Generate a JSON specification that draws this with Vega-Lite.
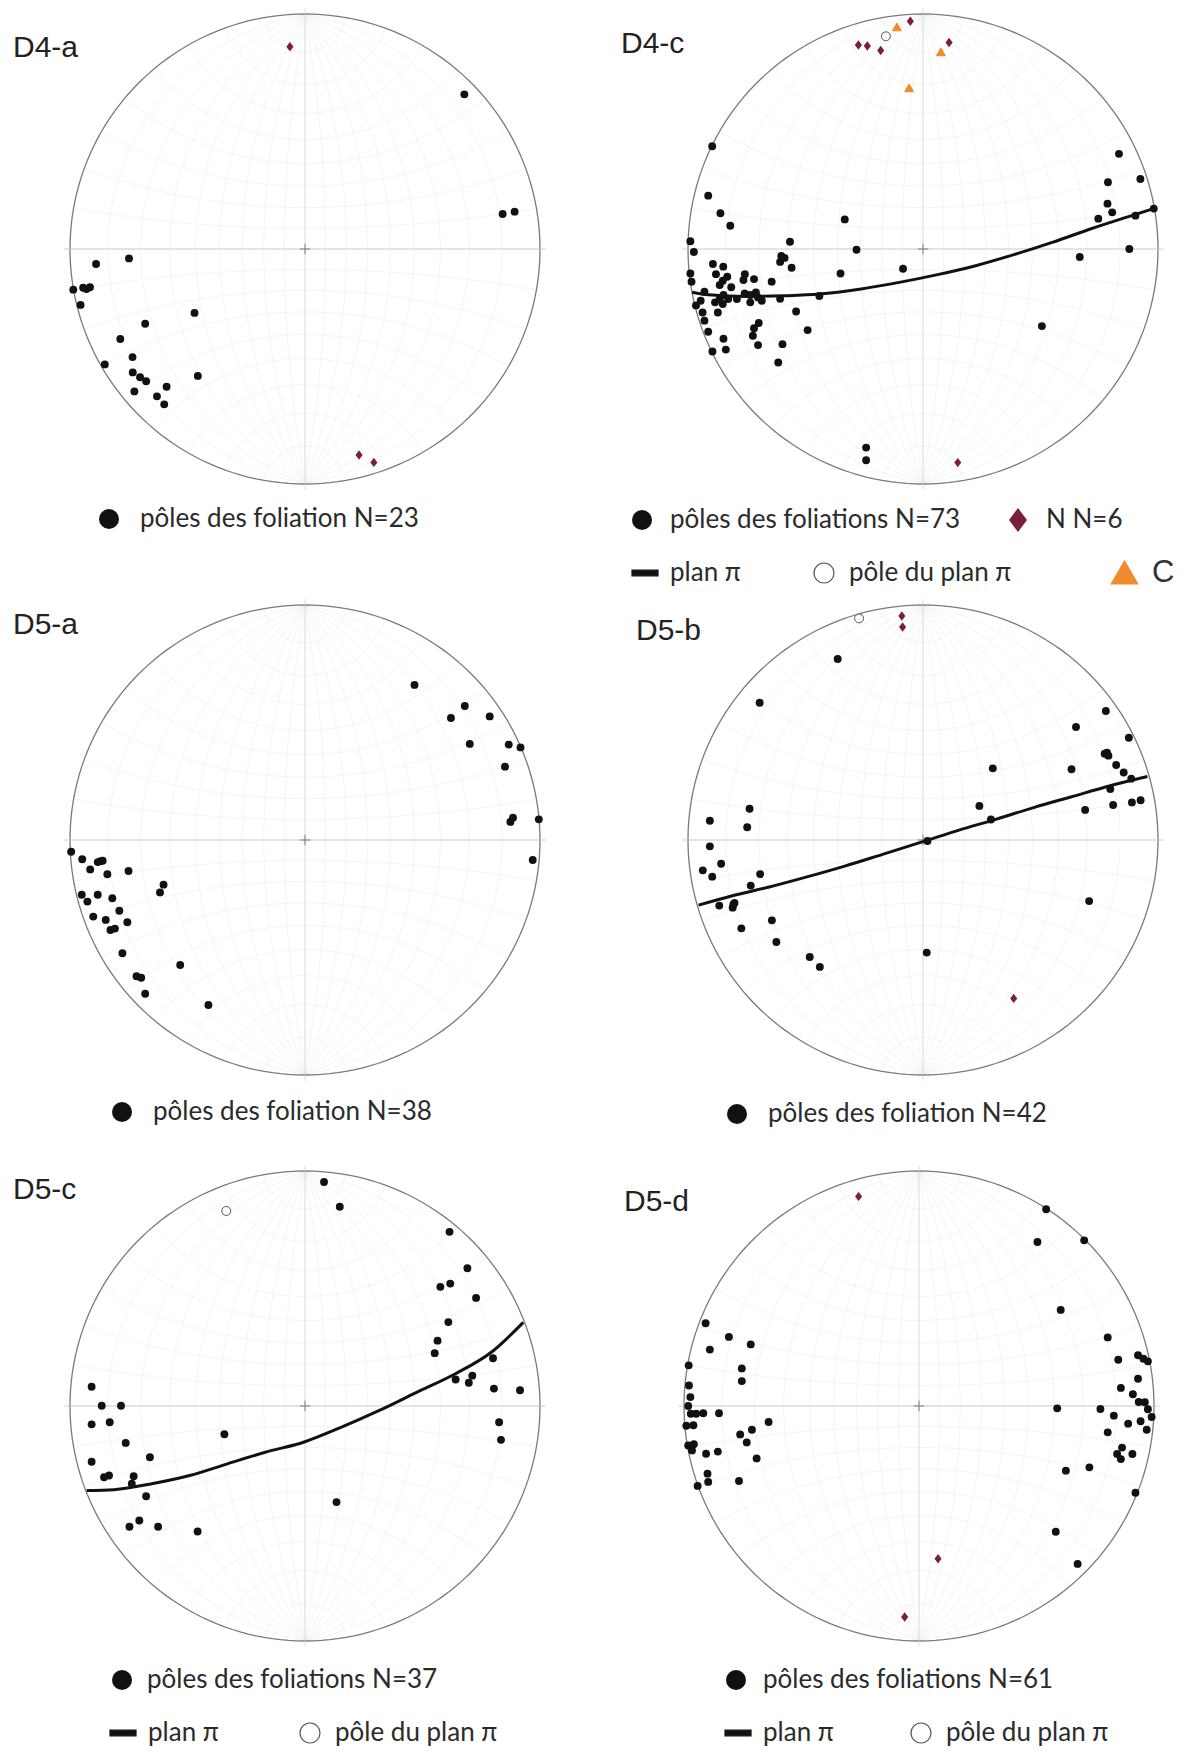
{
"$schema":"https://vega.github.io/schema/vega-lite/v6.json",
"padding":{"left":13,"top":7,"right":0,"bottom":0},
"background":"white",
"config":{
 "view":{"stroke":null},
 "font":"Lato",
 "title":{"font":"Liberation Sans","fontSize":30,"fontWeight":"normal","color":"#222222","anchor":"start","offset":0,"baseline":"alphabetic","frame":"group"},
 "legend":{"labelFont":"Lato","labelFontSize":26,"labelColor":"#2b2b2b","symbolSize":400,"labelOffset":20,"padding":0,"symbolStrokeWidth":1.2,"labelLimit":600}
},
"datasets":{
"pts":[
{"p":"a4","k":"N","x":-0.064,"y":0.861},{"p":"a4","k":"N","x":0.23,"y":-0.877},{"p":"a4","k":"N","x":0.293,"y":-0.908},
{"p":"a4","k":"pole","x":0.678,"y":0.658},{"p":"a4","k":"pole","x":0.841,"y":0.149},{"p":"a4","k":"pole","x":0.892,"y":0.159},{"p":"a4","k":"pole","x":-0.749,"y":-0.04},{"p":"a4","k":"pole","x":-0.889,"y":-0.064},{"p":"a4","k":"pole","x":-0.986,"y":-0.173},{"p":"a4","k":"pole","x":-0.944,"y":-0.165},{"p":"a4","k":"pole","x":-0.915,"y":-0.163},{"p":"a4","k":"pole","x":-0.955,"y":-0.238},{"p":"a4","k":"pole","x":-0.47,"y":-0.272},{"p":"a4","k":"pole","x":-0.68,"y":-0.318},{"p":"a4","k":"pole","x":-0.786,"y":-0.383},{"p":"a4","k":"pole","x":-0.734,"y":-0.46},{"p":"a4","k":"pole","x":-0.852,"y":-0.491},{"p":"a4","k":"pole","x":-0.733,"y":-0.525},{"p":"a4","k":"pole","x":-0.702,"y":-0.546},{"p":"a4","k":"pole","x":-0.676,"y":-0.563},{"p":"a4","k":"pole","x":-0.456,"y":-0.54},{"p":"a4","k":"pole","x":-0.589,"y":-0.586},{"p":"a4","k":"pole","x":-0.726,"y":-0.606},{"p":"a4","k":"pole","x":-0.63,"y":-0.627},{"p":"a4","k":"pole","x":-0.599,"y":-0.661},{"p":"a4","k":"pole","x":-0.93,"y":-0.17},
{"p":"c4","k":"N","x":-0.054,"y":0.969},{"p":"c4","k":"N","x":-0.275,"y":0.868},{"p":"c4","k":"N","x":-0.237,"y":0.864},{"p":"c4","k":"N","x":-0.18,"y":0.845},{"p":"c4","k":"N","x":0.111,"y":0.879},{"p":"c4","k":"N","x":0.148,"y":-0.909},
{"p":"c4","k":"C","x":-0.111,"y":0.945},{"p":"c4","k":"C","x":0.076,"y":0.839},{"p":"c4","k":"C","x":-0.059,"y":0.686},
{"p":"c4","k":"pp","x":-0.158,"y":0.905},
{"p":"c4","k":"pole","x":0.834,"y":0.405},{"p":"c4","k":"pole","x":0.787,"y":0.284},{"p":"c4","k":"pole","x":0.925,"y":0.298},{"p":"c4","k":"pole","x":0.785,"y":0.193},{"p":"c4","k":"pole","x":0.805,"y":0.156},{"p":"c4","k":"pole","x":0.746,"y":0.129},{"p":"c4","k":"pole","x":0.982,"y":0.172},{"p":"c4","k":"pole","x":0.904,"y":0.142},{"p":"c4","k":"pole","x":0.878,"y":0.0},{"p":"c4","k":"pole","x":0.667,"y":-0.034},{"p":"c4","k":"pole","x":0.506,"y":-0.328},
{"p":"c4","k":"pole","x":-0.333,"y":0.126},{"p":"c4","k":"pole","x":-0.283,"y":-0.003},{"p":"c4","k":"pole","x":-0.085,"y":-0.084},{"p":"c4","k":"pole","x":-0.351,"y":-0.104},{"p":"c4","k":"pole","x":-0.441,"y":-0.2},
{"p":"c4","k":"pole","x":-0.242,"y":-0.845},{"p":"c4","k":"pole","x":-0.242,"y":-0.899},
{"p":"c4","k":"pole","x":-0.897,"y":0.437},{"p":"c4","k":"pole","x":-0.914,"y":0.227},{"p":"c4","k":"pole","x":-0.862,"y":0.152},{"p":"c4","k":"pole","x":-0.82,"y":0.099},{"p":"c4","k":"pole","x":-0.99,"y":0.033},{"p":"c4","k":"pole","x":-0.975,"y":-0.013},{"p":"c4","k":"pole","x":-0.566,"y":0.031},
{"p":"c4","k":"pole","x":-0.603,"y":-0.03},{"p":"c4","k":"pole","x":-0.589,"y":-0.038},{"p":"c4","k":"pole","x":-0.608,"y":-0.055},{"p":"c4","k":"pole","x":-0.559,"y":-0.08},{"p":"c4","k":"pole","x":-0.894,"y":-0.064},{"p":"c4","k":"pole","x":-0.85,"y":-0.075},{"p":"c4","k":"pole","x":-0.881,"y":-0.107},{"p":"c4","k":"pole","x":-0.833,"y":-0.118},{"p":"c4","k":"pole","x":-0.758,"y":-0.107},{"p":"c4","k":"pole","x":-0.719,"y":-0.128},{"p":"c4","k":"pole","x":-0.764,"y":-0.132},{"p":"c4","k":"pole","x":-0.644,"y":-0.139},{"p":"c4","k":"pole","x":-0.865,"y":-0.153},{"p":"c4","k":"pole","x":-0.99,"y":-0.104},{"p":"c4","k":"pole","x":-0.985,"y":-0.139},{"p":"c4","k":"pole","x":-0.93,"y":-0.182},{"p":"c4","k":"pole","x":-0.849,"y":-0.196},{"p":"c4","k":"pole","x":-0.829,"y":-0.213},{"p":"c4","k":"pole","x":-0.792,"y":-0.213},{"p":"c4","k":"pole","x":-0.735,"y":-0.196},{"p":"c4","k":"pole","x":-0.702,"y":-0.206},{"p":"c4","k":"pole","x":-0.735,"y":-0.227},{"p":"c4","k":"pole","x":-0.686,"y":-0.22},{"p":"c4","k":"pole","x":-0.608,"y":-0.212},{"p":"c4","k":"pole","x":-0.885,"y":-0.227},{"p":"c4","k":"pole","x":-0.852,"y":-0.234},{"p":"c4","k":"pole","x":-0.966,"y":-0.24},{"p":"c4","k":"pole","x":-0.938,"y":-0.27},{"p":"c4","k":"pole","x":-0.873,"y":-0.27},{"p":"c4","k":"pole","x":-0.54,"y":-0.266},{"p":"c4","k":"pole","x":-0.93,"y":-0.305},{"p":"c4","k":"pole","x":-0.914,"y":-0.352},{"p":"c4","k":"pole","x":-0.699,"y":-0.315},{"p":"c4","k":"pole","x":-0.719,"y":-0.337},{"p":"c4","k":"pole","x":-0.724,"y":-0.369},{"p":"c4","k":"pole","x":-0.491,"y":-0.345},{"p":"c4","k":"pole","x":-0.849,"y":-0.382},{"p":"c4","k":"pole","x":-0.702,"y":-0.409},{"p":"c4","k":"pole","x":-0.598,"y":-0.405},{"p":"c4","k":"pole","x":-0.896,"y":-0.436},{"p":"c4","k":"pole","x":-0.839,"y":-0.428},{"p":"c4","k":"pole","x":-0.616,"y":-0.483},
{"p":"c4","k":"pole","x":-0.852,"y":-0.135},{"p":"c4","k":"pole","x":-0.816,"y":-0.163},{"p":"c4","k":"pole","x":-0.759,"y":-0.189},{"p":"c4","k":"pole","x":-0.865,"y":-0.213},{"p":"c4","k":"pole","x":-0.946,"y":-0.22},{"p":"c4","k":"pole","x":-0.711,"y":-0.185},
{"p":"a5","k":"pole","x":0.466,"y":0.66},{"p":"a5","k":"pole","x":0.68,"y":0.57},{"p":"a5","k":"pole","x":0.621,"y":0.519},{"p":"a5","k":"pole","x":0.786,"y":0.526},{"p":"a5","k":"pole","x":0.701,"y":0.409},{"p":"a5","k":"pole","x":0.867,"y":0.406},{"p":"a5","k":"pole","x":0.917,"y":0.394},{"p":"a5","k":"pole","x":0.851,"y":0.312},{"p":"a5","k":"pole","x":0.885,"y":0.095},{"p":"a5","k":"pole","x":0.874,"y":0.077},{"p":"a5","k":"pole","x":0.995,"y":0.088},{"p":"a5","k":"pole","x":0.969,"y":-0.085},
{"p":"a5","k":"pole","x":-0.995,"y":-0.05},{"p":"a5","k":"pole","x":-0.948,"y":-0.082},{"p":"a5","k":"pole","x":-0.882,"y":-0.094},{"p":"a5","k":"pole","x":-0.861,"y":-0.088},{"p":"a5","k":"pole","x":-0.914,"y":-0.125},{"p":"a5","k":"pole","x":-0.841,"y":-0.146},{"p":"a5","k":"pole","x":-0.751,"y":-0.132},{"p":"a5","k":"pole","x":-0.602,"y":-0.19},{"p":"a5","k":"pole","x":-0.617,"y":-0.223},{"p":"a5","k":"pole","x":-0.95,"y":-0.233},{"p":"a5","k":"pole","x":-0.882,"y":-0.233},{"p":"a5","k":"pole","x":-0.926,"y":-0.262},{"p":"a5","k":"pole","x":-0.82,"y":-0.248},{"p":"a5","k":"pole","x":-0.79,"y":-0.301},{"p":"a5","k":"pole","x":-0.901,"y":-0.326},{"p":"a5","k":"pole","x":-0.848,"y":-0.34},{"p":"a5","k":"pole","x":-0.756,"y":-0.35},{"p":"a5","k":"pole","x":-0.828,"y":-0.383},{"p":"a5","k":"pole","x":-0.809,"y":-0.377},{"p":"a5","k":"pole","x":-0.777,"y":-0.482},{"p":"a5","k":"pole","x":-0.531,"y":-0.532},{"p":"a5","k":"pole","x":-0.717,"y":-0.58},{"p":"a5","k":"pole","x":-0.697,"y":-0.586},{"p":"a5","k":"pole","x":-0.68,"y":-0.654},{"p":"a5","k":"pole","x":-0.411,"y":-0.702},{"p":"a5","k":"pole","x":-0.87,"y":-0.09},
{"p":"b5","k":"N","x":-0.09,"y":0.953},{"p":"b5","k":"N","x":-0.087,"y":0.906},{"p":"b5","k":"N","x":0.386,"y":-0.674},
{"p":"b5","k":"pp","x":-0.272,"y":0.943},
{"p":"b5","k":"pole","x":-0.363,"y":0.77},{"p":"b5","k":"pole","x":-0.695,"y":0.584},{"p":"b5","k":"pole","x":0.778,"y":0.549},{"p":"b5","k":"pole","x":0.651,"y":0.481},{"p":"b5","k":"pole","x":0.876,"y":0.435},{"p":"b5","k":"pole","x":0.773,"y":0.367},{"p":"b5","k":"pole","x":0.789,"y":0.359},{"p":"b5","k":"pole","x":0.297,"y":0.305},{"p":"b5","k":"pole","x":0.632,"y":0.301},{"p":"b5","k":"pole","x":0.822,"y":0.319},{"p":"b5","k":"pole","x":0.854,"y":0.287},{"p":"b5","k":"pole","x":0.886,"y":0.261},{"p":"b5","k":"pole","x":0.797,"y":0.217},{"p":"b5","k":"pole","x":0.69,"y":0.128},{"p":"b5","k":"pole","x":0.809,"y":0.149},{"p":"b5","k":"pole","x":0.889,"y":0.16},{"p":"b5","k":"pole","x":0.926,"y":0.169},{"p":"b5","k":"pole","x":0.24,"y":0.145},{"p":"b5","k":"pole","x":0.289,"y":0.087},{"p":"b5","k":"pole","x":0.019,"y":-0.004},{"p":"b5","k":"pole","x":-0.738,"y":0.133},{"p":"b5","k":"pole","x":-0.907,"y":0.082},{"p":"b5","k":"pole","x":-0.748,"y":0.054},{"p":"b5","k":"pole","x":-0.907,"y":-0.027},{"p":"b5","k":"pole","x":-0.859,"y":-0.101},{"p":"b5","k":"pole","x":-0.937,"y":-0.129},{"p":"b5","k":"pole","x":-0.897,"y":-0.156},{"p":"b5","k":"pole","x":-0.693,"y":-0.145},{"p":"b5","k":"pole","x":-0.733,"y":-0.194},{"p":"b5","k":"pole","x":-0.867,"y":-0.279},{"p":"b5","k":"pole","x":-0.81,"y":-0.288},{"p":"b5","k":"pole","x":-0.807,"y":-0.274},{"p":"b5","k":"pole","x":-0.773,"y":-0.376},{"p":"b5","k":"pole","x":-0.643,"y":-0.342},{"p":"b5","k":"pole","x":-0.624,"y":-0.434},{"p":"b5","k":"pole","x":-0.482,"y":-0.498},{"p":"b5","k":"pole","x":-0.439,"y":-0.54},{"p":"b5","k":"pole","x":0.016,"y":-0.479},{"p":"b5","k":"pole","x":0.707,"y":-0.26},{"p":"b5","k":"pole","x":0.783,"y":0.372},{"p":"b5","k":"pole","x":-0.802,"y":-0.268},
{"p":"c5","k":"pp","x":-0.335,"y":0.83},
{"p":"c5","k":"pole","x":0.081,"y":0.953},{"p":"c5","k":"pole","x":0.148,"y":0.848},{"p":"c5","k":"pole","x":0.615,"y":0.741},{"p":"c5","k":"pole","x":0.691,"y":0.586},{"p":"c5","k":"pole","x":0.576,"y":0.507},{"p":"c5","k":"pole","x":0.618,"y":0.521},{"p":"c5","k":"pole","x":0.728,"y":0.46},{"p":"c5","k":"pole","x":0.61,"y":0.357},{"p":"c5","k":"pole","x":0.564,"y":0.278},{"p":"c5","k":"pole","x":0.552,"y":0.225},{"p":"c5","k":"pole","x":0.8,"y":0.203},{"p":"c5","k":"pole","x":0.641,"y":0.113},{"p":"c5","k":"pole","x":0.712,"y":0.129},{"p":"c5","k":"pole","x":0.697,"y":0.099},{"p":"c5","k":"pole","x":0.804,"y":0.074},{"p":"c5","k":"pole","x":0.915,"y":0.067},{"p":"c5","k":"pole","x":0.826,"y":-0.069},{"p":"c5","k":"pole","x":0.834,"y":-0.144},{"p":"c5","k":"pole","x":-0.908,"y":0.082},{"p":"c5","k":"pole","x":-0.865,"y":0.001},{"p":"c5","k":"pole","x":-0.783,"y":0.001},{"p":"c5","k":"pole","x":-0.908,"y":-0.078},{"p":"c5","k":"pole","x":-0.831,"y":-0.069},{"p":"c5","k":"pole","x":-0.763,"y":-0.157},{"p":"c5","k":"pole","x":-0.343,"y":-0.12},{"p":"c5","k":"pole","x":-0.908,"y":-0.237},{"p":"c5","k":"pole","x":-0.66,"y":-0.218},{"p":"c5","k":"pole","x":-0.855,"y":-0.303},{"p":"c5","k":"pole","x":-0.834,"y":-0.296},{"p":"c5","k":"pole","x":-0.729,"y":-0.299},{"p":"c5","k":"pole","x":-0.737,"y":-0.331},{"p":"c5","k":"pole","x":-0.676,"y":-0.384},{"p":"c5","k":"pole","x":-0.747,"y":-0.514},{"p":"c5","k":"pole","x":-0.705,"y":-0.487},{"p":"c5","k":"pole","x":-0.625,"y":-0.514},{"p":"c5","k":"pole","x":-0.457,"y":-0.534},{"p":"c5","k":"pole","x":0.134,"y":-0.409},
{"p":"d5","k":"N","x":-0.257,"y":0.892},{"p":"d5","k":"N","x":0.081,"y":-0.65},{"p":"d5","k":"N","x":-0.061,"y":-0.898},
{"p":"d5","k":"pole","x":0.541,"y":0.837},{"p":"d5","k":"pole","x":0.504,"y":0.698},{"p":"d5","k":"pole","x":0.703,"y":0.705},{"p":"d5","k":"pole","x":0.603,"y":0.409},{"p":"d5","k":"pole","x":0.803,"y":0.292},{"p":"d5","k":"pole","x":0.848,"y":0.197},{"p":"d5","k":"pole","x":0.932,"y":0.216},{"p":"d5","k":"pole","x":0.955,"y":0.201},{"p":"d5","k":"pole","x":0.974,"y":0.19},{"p":"d5","k":"pole","x":0.932,"y":0.116},{"p":"d5","k":"pole","x":0.859,"y":0.077},{"p":"d5","k":"pole","x":0.91,"y":0.05},{"p":"d5","k":"pole","x":0.935,"y":0.017},{"p":"d5","k":"pole","x":0.961,"y":0.016},{"p":"d5","k":"pole","x":0.974,"y":-0.014},{"p":"d5","k":"pole","x":0.99,"y":-0.047},{"p":"d5","k":"pole","x":0.588,"y":-0.01},{"p":"d5","k":"pole","x":0.772,"y":-0.013},{"p":"d5","k":"pole","x":0.829,"y":-0.041},{"p":"d5","k":"pole","x":0.89,"y":-0.075},{"p":"d5","k":"pole","x":0.943,"y":-0.065},{"p":"d5","k":"pole","x":0.969,"y":-0.101},{"p":"d5","k":"pole","x":0.803,"y":-0.112},{"p":"d5","k":"pole","x":0.864,"y":-0.177},{"p":"d5","k":"pole","x":0.843,"y":-0.204},{"p":"d5","k":"pole","x":0.859,"y":-0.226},{"p":"d5","k":"pole","x":0.908,"y":-0.204},{"p":"d5","k":"pole","x":0.625,"y":-0.275},{"p":"d5","k":"pole","x":0.725,"y":-0.261},{"p":"d5","k":"pole","x":0.921,"y":-0.369},{"p":"d5","k":"pole","x":0.582,"y":-0.535},{"p":"d5","k":"pole","x":0.675,"y":-0.672},
{"p":"d5","k":"pole","x":-0.908,"y":0.352},{"p":"d5","k":"pole","x":-0.809,"y":0.294},{"p":"d5","k":"pole","x":-0.716,"y":0.262},{"p":"d5","k":"pole","x":-0.89,"y":0.24},{"p":"d5","k":"pole","x":-0.98,"y":0.173},{"p":"d5","k":"pole","x":-0.754,"y":0.16},{"p":"d5","k":"pole","x":-0.754,"y":0.106},{"p":"d5","k":"pole","x":-0.979,"y":0.087},{"p":"d5","k":"pole","x":-0.973,"y":0.038},{"p":"d5","k":"pole","x":-0.982,"y":0.0},{"p":"d5","k":"pole","x":-0.971,"y":-0.033},{"p":"d5","k":"pole","x":-0.948,"y":-0.033},{"p":"d5","k":"pole","x":-0.918,"y":-0.031},{"p":"d5","k":"pole","x":-0.851,"y":-0.031},{"p":"d5","k":"pole","x":-0.99,"y":-0.084},{"p":"d5","k":"pole","x":-0.96,"y":-0.082},{"p":"d5","k":"pole","x":-0.64,"y":-0.068},{"p":"d5","k":"pole","x":-0.761,"y":-0.121},{"p":"d5","k":"pole","x":-0.711,"y":-0.101},{"p":"d5","k":"pole","x":-0.733,"y":-0.155},{"p":"d5","k":"pole","x":-0.982,"y":-0.168},{"p":"d5","k":"pole","x":-0.958,"y":-0.163},{"p":"d5","k":"pole","x":-0.966,"y":-0.189},{"p":"d5","k":"pole","x":-0.906,"y":-0.203},{"p":"d5","k":"pole","x":-0.856,"y":-0.194},{"p":"d5","k":"pole","x":-0.691,"y":-0.223},{"p":"d5","k":"pole","x":-0.9,"y":-0.288},{"p":"d5","k":"pole","x":-0.897,"y":-0.323},{"p":"d5","k":"pole","x":-0.942,"y":-0.34},{"p":"d5","k":"pole","x":-0.766,"y":-0.319}
],
"lines":[
{"p":"c4","x":-0.982,"y":-0.184},{"p":"c4","x":-0.914,"y":-0.195},{"p":"c4","x":-0.751,"y":-0.202},{"p":"c4","x":-0.589,"y":-0.199},{"p":"c4","x":-0.442,"y":-0.192},{"p":"c4","x":-0.263,"y":-0.17},{"p":"c4","x":-0.101,"y":-0.142},{"p":"c4","x":0.062,"y":-0.109},{"p":"c4","x":0.224,"y":-0.071},{"p":"c4","x":0.387,"y":-0.024},{"p":"c4","x":0.55,"y":0.028},{"p":"c4","x":0.712,"y":0.085},{"p":"c4","x":0.875,"y":0.138},{"p":"c4","x":0.982,"y":0.172},
{"p":"b5","x":-0.955,"y":-0.277},{"p":"b5","x":-0.815,"y":-0.238},{"p":"b5","x":-0.654,"y":-0.2},{"p":"b5","x":-0.494,"y":-0.157},{"p":"b5","x":-0.333,"y":-0.111},{"p":"b5","x":-0.172,"y":-0.061},{"p":"b5","x":0.0,"y":-0.007},{"p":"b5","x":0.15,"y":0.041},{"p":"b5","x":0.31,"y":0.088},{"p":"b5","x":0.471,"y":0.138},{"p":"b5","x":0.632,"y":0.184},{"p":"b5","x":0.793,"y":0.23},{"p":"b5","x":0.955,"y":0.27},
{"p":"c5","x":-0.929,"y":-0.36},{"p":"c5","x":-0.813,"y":-0.356},{"p":"c5","x":-0.652,"y":-0.331},{"p":"c5","x":-0.491,"y":-0.296},{"p":"c5","x":-0.33,"y":-0.246},{"p":"c5","x":-0.169,"y":-0.197},{"p":"c5","x":0.0,"y":-0.152},{"p":"c5","x":0.153,"y":-0.091},{"p":"c5","x":0.314,"y":-0.02},{"p":"c5","x":0.475,"y":0.058},{"p":"c5","x":0.636,"y":0.135},{"p":"c5","x":0.797,"y":0.232},{"p":"c5","x":0.929,"y":0.356}
]
},
"spacing":10,
"resolve":{"scale":{"shape":"independent","fill":"independent","stroke":"independent"}},
"vconcat":[
{"spacing":74,"resolve":{"scale":{"shape":"independent","fill":"independent","stroke":"independent"}},
 "hconcat":[
  {"width":470,"height":470,"title":{"text":"D4-a","dx":-57,"dy":59},
   "resolve":{"scale":{"shape":"independent","fill":"independent","stroke":"independent"}},
   "layer":[
    {"data":{"graticule":{"step":[10,10]}},"mark":{"type":"geoshape","filled":false,"stroke":"#ececec","strokeWidth":0.6},"projection":{"type":"stereographic","clipAngle":90}},
    {"data":{"sphere":true},"mark":{"type":"geoshape","filled":false,"stroke":"#7a7a7a","strokeWidth":1.3},"projection":{"type":"stereographic","clipAngle":90}},
    {"data":{"values":[{}]},"mark":{"type":"rule","stroke":"#c4c4c4","strokeWidth":0.8},"encoding":{"x":{"datum":-1.025,"type":"quantitative","scale":{"domain":[-1,1]},"axis":null},"x2":{"datum":1.025},"y":{"datum":0,"type":"quantitative","scale":{"domain":[-1,1]},"axis":null}}},
    {"data":{"values":[{}]},"mark":{"type":"rule","stroke":"#d6d6d6","strokeWidth":0.8},"encoding":{"y":{"datum":-1.025,"type":"quantitative","scale":{"domain":[-1,1]},"axis":null},"y2":{"datum":1.025},"x":{"datum":0,"type":"quantitative","scale":{"domain":[-1,1]},"axis":null}}},
    {"data":{"values":[{}]},"mark":{"type":"point","shape":"M-1,0H1M0,-1V1","size":110,"stroke":"#555555","strokeWidth":1,"filled":false},"encoding":{"x":{"datum":0,"type":"quantitative","scale":{"domain":[-1,1]},"axis":null},"y":{"datum":0,"type":"quantitative","scale":{"domain":[-1,1]},"axis":null}}},
    {"data":{"name":"pts"},"transform":[{"filter":"datum.p=='a4' && (datum.k=='pole' || datum.k=='N')"}],"mark":{"type":"point","filled":true,"size":62,"opacity":1},
     "encoding":{"x":{"field":"x","type":"quantitative","scale":{"domain":[-1,1]},"axis":null},"y":{"field":"y","type":"quantitative","scale":{"domain":[-1,1]},"axis":null},
      "shape":{"field":"k","type":"nominal","scale":{"domain":["pole","N"],"range":["circle","M0,-1.2L0.9,0L0,1.2L-0.9,0Z"]},"legend":{"title":null,"orient":"none","legendX":26,"legendY":492,"labelOffset":18,"direction":"horizontal","values":["pole"],"labelExpr":"'pôles des foliation N=23'"}},
      "fill":{"field":"k","type":"nominal","scale":{"domain":["pole","N"],"range":["#111111","#7a1e3c"]},"legend":{"title":null,"orient":"none","legendX":26,"legendY":492,"labelOffset":18,"direction":"horizontal","values":["pole"],"labelExpr":"'pôles des foliation N=23'"}}}}
   ]},
  {"width":470,"height":470,"title":{"text":"D4-c","dx":-67,"dy":55},
   "resolve":{"scale":{"shape":"independent","fill":"independent","stroke":"independent"}},
   "layer":[
    {"data":{"graticule":{"step":[10,10]}},"mark":{"type":"geoshape","filled":false,"stroke":"#ececec","strokeWidth":0.6},"projection":{"type":"stereographic","clipAngle":90}},
    {"data":{"sphere":true},"mark":{"type":"geoshape","filled":false,"stroke":"#7a7a7a","strokeWidth":1.3},"projection":{"type":"stereographic","clipAngle":90}},
    {"data":{"values":[{}]},"mark":{"type":"rule","stroke":"#c4c4c4","strokeWidth":0.8},"encoding":{"x":{"datum":-1.025,"type":"quantitative","scale":{"domain":[-1,1]},"axis":null},"x2":{"datum":1.025},"y":{"datum":0,"type":"quantitative","scale":{"domain":[-1,1]},"axis":null}}},
    {"data":{"values":[{}]},"mark":{"type":"rule","stroke":"#d6d6d6","strokeWidth":0.8},"encoding":{"y":{"datum":-1.025,"type":"quantitative","scale":{"domain":[-1,1]},"axis":null},"y2":{"datum":1.025},"x":{"datum":0,"type":"quantitative","scale":{"domain":[-1,1]},"axis":null}}},
    {"data":{"values":[{}]},"mark":{"type":"point","shape":"M-1,0H1M0,-1V1","size":110,"stroke":"#555555","strokeWidth":1,"filled":false},"encoding":{"x":{"datum":0,"type":"quantitative","scale":{"domain":[-1,1]},"axis":null},"y":{"datum":0,"type":"quantitative","scale":{"domain":[-1,1]},"axis":null}}},
    {"data":{"name":"lines"},"transform":[{"filter":"datum.p=='c4'"}],"mark":{"type":"line","stroke":"#111111","strokeWidth":3,"interpolate":"monotone"},"encoding":{"x":{"field":"x","type":"quantitative","scale":{"domain":[-1,1]},"axis":null},"y":{"field":"y","type":"quantitative","scale":{"domain":[-1,1]},"axis":null}}},
    {"data":{"name":"pts"},"transform":[{"filter":"datum.p=='c4' && (datum.k=='pole' || datum.k=='N')"}],"mark":{"type":"point","filled":true,"size":62,"opacity":1},
     "encoding":{"x":{"field":"x","type":"quantitative","scale":{"domain":[-1,1]},"axis":null},"y":{"field":"y","type":"quantitative","scale":{"domain":[-1,1]},"axis":null},
      "shape":{"field":"k","type":"nominal","scale":{"domain":["pole","N"],"range":["circle","M0,-1.2L0.9,0L0,1.2L-0.9,0Z"]},"legend":{"title":null,"orient":"none","legendX":-59,"legendY":493,"labelOffset":15,"direction":"horizontal","columnPadding":44,"symbolStrokeWidth":0,"values":["pole","N"],"labelExpr":"datum.value == 'pole' ? 'pôles des foliations N=73' : 'N N=6'","encode":{"symbols":{"update":{"size":{"signal":"datum.value == 'N' ? 280 : 400"}}}}}},
      "fill":{"field":"k","type":"nominal","scale":{"domain":["pole","N"],"range":["#111111","#7a1e3c"]},"legend":{"title":null,"orient":"none","legendX":-59,"legendY":493,"labelOffset":15,"direction":"horizontal","columnPadding":44,"symbolStrokeWidth":0,"values":["pole","N"],"labelExpr":"datum.value == 'pole' ? 'pôles des foliations N=73' : 'N N=6'","encode":{"symbols":{"update":{"size":{"signal":"datum.value == 'N' ? 280 : 400"}}}}}}}},
    {"data":{"name":"pts"},"transform":[{"filter":"datum.p=='c4' && datum.k=='pp'"}],"mark":{"type":"point","filled":true,"size":80,"strokeWidth":1,"opacity":1},
     "encoding":{"x":{"field":"x","type":"quantitative","scale":{"domain":[-1,1]},"axis":null},"y":{"field":"y","type":"quantitative","scale":{"domain":[-1,1]},"axis":null},
      "shape":{"field":"k","type":"nominal","scale":{"domain":["plan","pp"],"range":["M-1.3,-0.28H1.3V0.28H-1.3Z","circle"]},"legend":{"title":null,"orient":"none","legendX":-56,"legendY":546,"labelOffset":12,"direction":"horizontal","gridAlign":"none","columnPadding":70,"values":["plan","pp"],"labelExpr":"datum.value == 'plan' ? 'plan π' : 'pôle du plan π'","encode":{"symbols":{"update":{"size":{"signal":"datum.value == 'pp' ? 150 : 400"}}}}}},
      "fill":{"field":"k","type":"nominal","scale":{"domain":["plan","pp"],"range":["#111111","#ffffff"]},"legend":{"title":null,"orient":"none","legendX":-56,"legendY":546,"labelOffset":12,"direction":"horizontal","gridAlign":"none","columnPadding":70,"values":["plan","pp"],"labelExpr":"datum.value == 'plan' ? 'plan π' : 'pôle du plan π'","encode":{"symbols":{"update":{"size":{"signal":"datum.value == 'pp' ? 150 : 400"}}}}}},
      "stroke":{"field":"k","type":"nominal","scale":{"domain":["plan","pp"],"range":["#111111","#555555"]},"legend":{"title":null,"orient":"none","legendX":-56,"legendY":546,"labelOffset":12,"direction":"horizontal","gridAlign":"none","columnPadding":70,"values":["plan","pp"],"labelExpr":"datum.value == 'plan' ? 'plan π' : 'pôle du plan π'","encode":{"symbols":{"update":{"size":{"signal":"datum.value == 'pp' ? 150 : 400"}}}}}}}},
    {"data":{"name":"pts"},"transform":[{"filter":"datum.p=='c4' && datum.k=='C'"}],"mark":{"type":"point","filled":true,"size":80,"strokeWidth":1,"opacity":1},
     "encoding":{"x":{"field":"x","type":"quantitative","scale":{"domain":[-1,1]},"axis":null},"y":{"field":"y","type":"quantitative","scale":{"domain":[-1,1]},"axis":null},
      "shape":{"field":"k","type":"nominal","scale":{"domain":["C"],"range":["triangle-up"]},"legend":{"title":null,"orient":"none","legendX":421,"legendY":543,"labelOffset":12,"symbolSize":700,"labelFont":"Liberation Sans","labelFontSize":31,"labelColor":"#333333","values":["C"]}},
      "fill":{"field":"k","type":"nominal","scale":{"domain":["C"],"range":["#f08a2b"]},"legend":{"title":null,"orient":"none","legendX":421,"legendY":543,"labelOffset":12,"symbolSize":700,"labelFont":"Liberation Sans","labelFontSize":31,"labelColor":"#333333","values":["C"]}},
      "stroke":{"field":"k","type":"nominal","scale":{"domain":["C"],"range":["#f08a2b"]},"legend":{"title":null,"orient":"none","legendX":421,"legendY":543,"labelOffset":12,"symbolSize":700,"labelFont":"Liberation Sans","labelFontSize":31,"labelColor":"#333333","values":["C"]}}}}
   ]}
 ]},
{"spacing":37,"resolve":{"scale":{"shape":"independent","fill":"independent","stroke":"independent"}},
 "vconcat":[
 {"spacing":89,"resolve":{"scale":{"shape":"independent","fill":"independent","stroke":"independent"}},
  "hconcat":[
  {"width":470,"height":470,"title":{"text":"D5-a","dx":-57,"dy":45},
   "resolve":{"scale":{"shape":"independent","fill":"independent","stroke":"independent"}},
   "layer":[
    {"data":{"graticule":{"step":[10,10]}},"mark":{"type":"geoshape","filled":false,"stroke":"#ececec","strokeWidth":0.6},"projection":{"type":"stereographic","clipAngle":90}},
    {"data":{"sphere":true},"mark":{"type":"geoshape","filled":false,"stroke":"#7a7a7a","strokeWidth":1.3},"projection":{"type":"stereographic","clipAngle":90}},
    {"data":{"values":[{}]},"mark":{"type":"rule","stroke":"#c4c4c4","strokeWidth":0.8},"encoding":{"x":{"datum":-1.025,"type":"quantitative","scale":{"domain":[-1,1]},"axis":null},"x2":{"datum":1.025},"y":{"datum":0,"type":"quantitative","scale":{"domain":[-1,1]},"axis":null}}},
    {"data":{"values":[{}]},"mark":{"type":"rule","stroke":"#d6d6d6","strokeWidth":0.8},"encoding":{"y":{"datum":-1.025,"type":"quantitative","scale":{"domain":[-1,1]},"axis":null},"y2":{"datum":1.025},"x":{"datum":0,"type":"quantitative","scale":{"domain":[-1,1]},"axis":null}}},
    {"data":{"values":[{}]},"mark":{"type":"point","shape":"M-1,0H1M0,-1V1","size":110,"stroke":"#555555","strokeWidth":1,"filled":false},"encoding":{"x":{"datum":0,"type":"quantitative","scale":{"domain":[-1,1]},"axis":null},"y":{"datum":0,"type":"quantitative","scale":{"domain":[-1,1]},"axis":null}}},
    {"data":{"name":"pts"},"transform":[{"filter":"datum.p=='a5' && (datum.k=='pole' || datum.k=='N')"}],"mark":{"type":"point","filled":true,"size":62,"opacity":1},
     "encoding":{"x":{"field":"x","type":"quantitative","scale":{"domain":[-1,1]},"axis":null},"y":{"field":"y","type":"quantitative","scale":{"domain":[-1,1]},"axis":null},
      "shape":{"field":"k","type":"nominal","scale":{"domain":["pole","N"],"range":["circle","M0,-1.2L0.9,0L0,1.2L-0.9,0Z"]},"legend":{"title":null,"orient":"none","legendX":39,"legendY":494,"labelOffset":18,"direction":"horizontal","values":["pole"],"labelExpr":"'pôles des foliation N=38'"}},
      "fill":{"field":"k","type":"nominal","scale":{"domain":["pole","N"],"range":["#111111","#7a1e3c"]},"legend":{"title":null,"orient":"none","legendX":39,"legendY":494,"labelOffset":18,"direction":"horizontal","values":["pole"],"labelExpr":"'pôles des foliation N=38'"}}}}
   ]},
  {"width":470,"height":470,"title":{"text":"D5-b","dx":-52,"dy":51},
   "resolve":{"scale":{"shape":"independent","fill":"independent","stroke":"independent"}},
   "layer":[
    {"data":{"graticule":{"step":[10,10]}},"mark":{"type":"geoshape","filled":false,"stroke":"#ececec","strokeWidth":0.6},"projection":{"type":"stereographic","clipAngle":90}},
    {"data":{"sphere":true},"mark":{"type":"geoshape","filled":false,"stroke":"#7a7a7a","strokeWidth":1.3},"projection":{"type":"stereographic","clipAngle":90}},
    {"data":{"values":[{}]},"mark":{"type":"rule","stroke":"#c4c4c4","strokeWidth":0.8},"encoding":{"x":{"datum":-1.025,"type":"quantitative","scale":{"domain":[-1,1]},"axis":null},"x2":{"datum":1.025},"y":{"datum":0,"type":"quantitative","scale":{"domain":[-1,1]},"axis":null}}},
    {"data":{"values":[{}]},"mark":{"type":"rule","stroke":"#d6d6d6","strokeWidth":0.8},"encoding":{"y":{"datum":-1.025,"type":"quantitative","scale":{"domain":[-1,1]},"axis":null},"y2":{"datum":1.025},"x":{"datum":0,"type":"quantitative","scale":{"domain":[-1,1]},"axis":null}}},
    {"data":{"values":[{}]},"mark":{"type":"point","shape":"M-1,0H1M0,-1V1","size":110,"stroke":"#555555","strokeWidth":1,"filled":false},"encoding":{"x":{"datum":0,"type":"quantitative","scale":{"domain":[-1,1]},"axis":null},"y":{"datum":0,"type":"quantitative","scale":{"domain":[-1,1]},"axis":null}}},
    {"data":{"name":"lines"},"transform":[{"filter":"datum.p=='b5'"}],"mark":{"type":"line","stroke":"#111111","strokeWidth":3,"interpolate":"monotone"},"encoding":{"x":{"field":"x","type":"quantitative","scale":{"domain":[-1,1]},"axis":null},"y":{"field":"y","type":"quantitative","scale":{"domain":[-1,1]},"axis":null}}},
    {"data":{"name":"pts"},"transform":[{"filter":"datum.p=='b5' && (datum.k=='pole' || datum.k=='N')"}],"mark":{"type":"point","filled":true,"size":62,"opacity":1},
     "encoding":{"x":{"field":"x","type":"quantitative","scale":{"domain":[-1,1]},"axis":null},"y":{"field":"y","type":"quantitative","scale":{"domain":[-1,1]},"axis":null},
      "shape":{"field":"k","type":"nominal","scale":{"domain":["pole","N"],"range":["circle","M0,-1.2L0.9,0L0,1.2L-0.9,0Z"]},"legend":{"title":null,"orient":"none","legendX":36,"legendY":496,"labelOffset":18,"direction":"horizontal","values":["pole"],"labelExpr":"'pôles des foliation N=42'"}},
      "fill":{"field":"k","type":"nominal","scale":{"domain":["pole","N"],"range":["#111111","#7a1e3c"]},"legend":{"title":null,"orient":"none","legendX":36,"legendY":496,"labelOffset":18,"direction":"horizontal","values":["pole"],"labelExpr":"'pôles des foliation N=42'"}}}},
    {"data":{"name":"pts"},"transform":[{"filter":"datum.p=='b5' && (datum.k=='pp' || datum.k=='C')"}],"mark":{"type":"point","filled":true,"size":80,"strokeWidth":1,"opacity":1},
     "encoding":{"x":{"field":"x","type":"quantitative","scale":{"domain":[-1,1]},"axis":null},"y":{"field":"y","type":"quantitative","scale":{"domain":[-1,1]},"axis":null},
      "shape":{"field":"k","type":"nominal","scale":{"domain":["plan","pp","C"],"range":["M-1.3,-0.28H1.3V0.28H-1.3Z","circle","triangle-up"]},"legend":null},
      "fill":{"field":"k","type":"nominal","scale":{"domain":["plan","pp","C"],"range":["#111111","#ffffff","#f08a2b"]},"legend":null},
      "stroke":{"field":"k","type":"nominal","scale":{"domain":["plan","pp","C"],"range":["#111111","#555555","#f08a2b"]},"legend":null}}}
   ]}
  ]},
 {"spacing":77,"resolve":{"scale":{"shape":"independent","fill":"independent","stroke":"independent"}},
  "hconcat":[
  {"width":470,"height":470,"title":{"text":"D5-c","dx":-57,"dy":44},
   "resolve":{"scale":{"shape":"independent","fill":"independent","stroke":"independent"}},
   "layer":[
    {"data":{"graticule":{"step":[10,10]}},"mark":{"type":"geoshape","filled":false,"stroke":"#ececec","strokeWidth":0.6},"projection":{"type":"stereographic","clipAngle":90}},
    {"data":{"sphere":true},"mark":{"type":"geoshape","filled":false,"stroke":"#7a7a7a","strokeWidth":1.3},"projection":{"type":"stereographic","clipAngle":90}},
    {"data":{"values":[{}]},"mark":{"type":"rule","stroke":"#c4c4c4","strokeWidth":0.8},"encoding":{"x":{"datum":-1.025,"type":"quantitative","scale":{"domain":[-1,1]},"axis":null},"x2":{"datum":1.025},"y":{"datum":0,"type":"quantitative","scale":{"domain":[-1,1]},"axis":null}}},
    {"data":{"values":[{}]},"mark":{"type":"rule","stroke":"#d6d6d6","strokeWidth":0.8},"encoding":{"y":{"datum":-1.025,"type":"quantitative","scale":{"domain":[-1,1]},"axis":null},"y2":{"datum":1.025},"x":{"datum":0,"type":"quantitative","scale":{"domain":[-1,1]},"axis":null}}},
    {"data":{"values":[{}]},"mark":{"type":"point","shape":"M-1,0H1M0,-1V1","size":110,"stroke":"#555555","strokeWidth":1,"filled":false},"encoding":{"x":{"datum":0,"type":"quantitative","scale":{"domain":[-1,1]},"axis":null},"y":{"datum":0,"type":"quantitative","scale":{"domain":[-1,1]},"axis":null}}},
    {"data":{"name":"lines"},"transform":[{"filter":"datum.p=='c5'"}],"mark":{"type":"line","stroke":"#111111","strokeWidth":3,"interpolate":"monotone"},"encoding":{"x":{"field":"x","type":"quantitative","scale":{"domain":[-1,1]},"axis":null},"y":{"field":"y","type":"quantitative","scale":{"domain":[-1,1]},"axis":null}}},
    {"data":{"name":"pts"},"transform":[{"filter":"datum.p=='c5' && (datum.k=='pole' || datum.k=='N')"}],"mark":{"type":"point","filled":true,"size":62,"opacity":1},
     "encoding":{"x":{"field":"x","type":"quantitative","scale":{"domain":[-1,1]},"axis":null},"y":{"field":"y","type":"quantitative","scale":{"domain":[-1,1]},"axis":null},
      "shape":{"field":"k","type":"nominal","scale":{"domain":["pole","N"],"range":["circle","M0,-1.2L0.9,0L0,1.2L-0.9,0Z"]},"legend":{"title":null,"orient":"none","legendX":39,"legendY":496,"labelOffset":12,"direction":"horizontal","values":["pole"],"labelExpr":"'pôles des foliations N=37'"}},
      "fill":{"field":"k","type":"nominal","scale":{"domain":["pole","N"],"range":["#111111","#7a1e3c"]},"legend":{"title":null,"orient":"none","legendX":39,"legendY":496,"labelOffset":12,"direction":"horizontal","values":["pole"],"labelExpr":"'pôles des foliations N=37'"}}}},
    {"data":{"name":"pts"},"transform":[{"filter":"datum.p=='c5' && (datum.k=='pp' || datum.k=='C')"}],"mark":{"type":"point","filled":true,"size":80,"strokeWidth":1,"opacity":1},
     "encoding":{"x":{"field":"x","type":"quantitative","scale":{"domain":[-1,1]},"axis":null},"y":{"field":"y","type":"quantitative","scale":{"domain":[-1,1]},"axis":null},
      "shape":{"field":"k","type":"nominal","scale":{"domain":["plan","pp","C"],"range":["M-1.3,-0.28H1.3V0.28H-1.3Z","circle","triangle-up"]},"legend":{"title":null,"orient":"none","legendX":40,"legendY":549,"labelOffset":12,"direction":"horizontal","gridAlign":"none","columnPadding":78,"values":["plan","pp"],"labelExpr":"datum.value == 'plan' ? 'plan π' : 'pôle du plan π'","encode":{"symbols":{"update":{"size":{"signal":"datum.value == 'pp' ? 150 : 400"}}}}}},
      "fill":{"field":"k","type":"nominal","scale":{"domain":["plan","pp","C"],"range":["#111111","#ffffff","#f08a2b"]},"legend":{"title":null,"orient":"none","legendX":40,"legendY":549,"labelOffset":12,"direction":"horizontal","gridAlign":"none","columnPadding":78,"values":["plan","pp"],"labelExpr":"datum.value == 'plan' ? 'plan π' : 'pôle du plan π'","encode":{"symbols":{"update":{"size":{"signal":"datum.value == 'pp' ? 150 : 400"}}}}}},
      "stroke":{"field":"k","type":"nominal","scale":{"domain":["plan","pp","C"],"range":["#111111","#555555","#f08a2b"]},"legend":{"title":null,"orient":"none","legendX":40,"legendY":549,"labelOffset":12,"direction":"horizontal","gridAlign":"none","columnPadding":78,"values":["plan","pp"],"labelExpr":"datum.value == 'plan' ? 'plan π' : 'pôle du plan π'","encode":{"symbols":{"update":{"size":{"signal":"datum.value == 'pp' ? 150 : 400"}}}}}}}}
   ]},
  {"width":470,"height":470,"title":{"text":"D5-d","dx":-60,"dy":56},
   "resolve":{"scale":{"shape":"independent","fill":"independent","stroke":"independent"}},
   "layer":[
    {"data":{"graticule":{"step":[10,10]}},"mark":{"type":"geoshape","filled":false,"stroke":"#ececec","strokeWidth":0.6},"projection":{"type":"stereographic","clipAngle":90}},
    {"data":{"sphere":true},"mark":{"type":"geoshape","filled":false,"stroke":"#7a7a7a","strokeWidth":1.3},"projection":{"type":"stereographic","clipAngle":90}},
    {"data":{"values":[{}]},"mark":{"type":"rule","stroke":"#c4c4c4","strokeWidth":0.8},"encoding":{"x":{"datum":-1.025,"type":"quantitative","scale":{"domain":[-1,1]},"axis":null},"x2":{"datum":1.025},"y":{"datum":0,"type":"quantitative","scale":{"domain":[-1,1]},"axis":null}}},
    {"data":{"values":[{}]},"mark":{"type":"rule","stroke":"#d6d6d6","strokeWidth":0.8},"encoding":{"y":{"datum":-1.025,"type":"quantitative","scale":{"domain":[-1,1]},"axis":null},"y2":{"datum":1.025},"x":{"datum":0,"type":"quantitative","scale":{"domain":[-1,1]},"axis":null}}},
    {"data":{"values":[{}]},"mark":{"type":"point","shape":"M-1,0H1M0,-1V1","size":110,"stroke":"#555555","strokeWidth":1,"filled":false},"encoding":{"x":{"datum":0,"type":"quantitative","scale":{"domain":[-1,1]},"axis":null},"y":{"datum":0,"type":"quantitative","scale":{"domain":[-1,1]},"axis":null}}},
    {"data":{"name":"pts"},"transform":[{"filter":"datum.p=='d5' && (datum.k=='pole' || datum.k=='N')"}],"mark":{"type":"point","filled":true,"size":62,"opacity":1},
     "encoding":{"x":{"field":"x","type":"quantitative","scale":{"domain":[-1,1]},"axis":null},"y":{"field":"y","type":"quantitative","scale":{"domain":[-1,1]},"axis":null},
      "shape":{"field":"k","type":"nominal","scale":{"domain":["pole","N"],"range":["circle","M0,-1.2L0.9,0L0,1.2L-0.9,0Z"]},"legend":{"title":null,"orient":"none","legendX":39,"legendY":496,"labelOffset":14,"direction":"horizontal","values":["pole"],"labelExpr":"'pôles des foliations N=61'"}},
      "fill":{"field":"k","type":"nominal","scale":{"domain":["pole","N"],"range":["#111111","#7a1e3c"]},"legend":{"title":null,"orient":"none","legendX":39,"legendY":496,"labelOffset":14,"direction":"horizontal","values":["pole"],"labelExpr":"'pôles des foliations N=61'"}}}},
    {"data":{"name":"pts"},"transform":[{"filter":"datum.p=='d5' && (datum.k=='pp' || datum.k=='C')"}],"mark":{"type":"point","filled":true,"size":80,"strokeWidth":1,"opacity":1},
     "encoding":{"x":{"field":"x","type":"quantitative","scale":{"domain":[-1,1]},"axis":null},"y":{"field":"y","type":"quantitative","scale":{"domain":[-1,1]},"axis":null},
      "shape":{"field":"k","type":"nominal","scale":{"domain":["plan","pp","C"],"range":["M-1.3,-0.28H1.3V0.28H-1.3Z","circle","triangle-up"]},"legend":{"title":null,"orient":"none","legendX":41,"legendY":549,"labelOffset":12,"direction":"horizontal","gridAlign":"none","columnPadding":74,"values":["plan","pp"],"labelExpr":"datum.value == 'plan' ? 'plan π' : 'pôle du plan π'","encode":{"symbols":{"update":{"size":{"signal":"datum.value == 'pp' ? 150 : 400"}}}}}},
      "fill":{"field":"k","type":"nominal","scale":{"domain":["plan","pp","C"],"range":["#111111","#ffffff","#f08a2b"]},"legend":{"title":null,"orient":"none","legendX":41,"legendY":549,"labelOffset":12,"direction":"horizontal","gridAlign":"none","columnPadding":74,"values":["plan","pp"],"labelExpr":"datum.value == 'plan' ? 'plan π' : 'pôle du plan π'","encode":{"symbols":{"update":{"size":{"signal":"datum.value == 'pp' ? 150 : 400"}}}}}},
      "stroke":{"field":"k","type":"nominal","scale":{"domain":["plan","pp","C"],"range":["#111111","#555555","#f08a2b"]},"legend":{"title":null,"orient":"none","legendX":41,"legendY":549,"labelOffset":12,"direction":"horizontal","gridAlign":"none","columnPadding":74,"values":["plan","pp"],"labelExpr":"datum.value == 'plan' ? 'plan π' : 'pôle du plan π'","encode":{"symbols":{"update":{"size":{"signal":"datum.value == 'pp' ? 150 : 400"}}}}}}}}
   ]}
  ]}
 ]}
]
}
